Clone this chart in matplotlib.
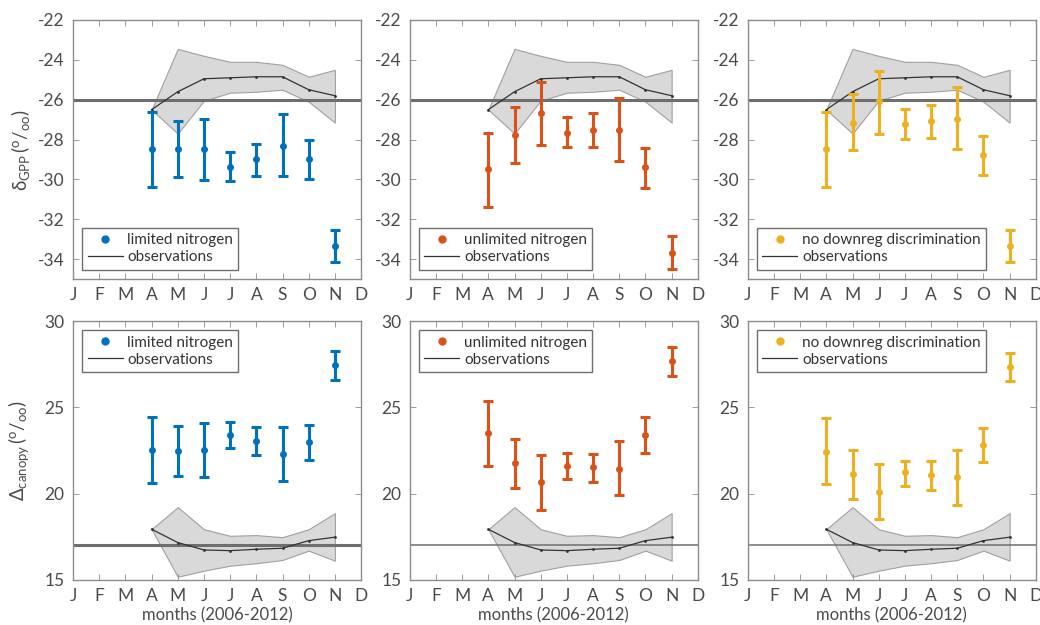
import numpy as np
import matplotlib
import matplotlib.pyplot as plt

matplotlib.use('Agg')

plt.rcParams['font.family'] = ['Lato', 'DejaVu Sans']
plt.rcParams['mathtext.fontset'] = 'custom'
plt.rcParams['mathtext.rm'] = 'Lato'
plt.rcParams['mathtext.it'] = 'Lato'
plt.rcParams['axes.unicode_minus'] = False

TEXT = '#4a4a4a'
FRAME = '#8c8c8c'

month_labels = ['J', 'F', 'M', 'A', 'M', 'J', 'J', 'A', 'S', 'O', 'N', 'D']
months = [4, 5, 6, 7, 8, 9, 10, 11]

# observations, delta GPP
obs_gpp = [-26.5, -25.6, -24.95, -24.9, -24.85, -24.85, -25.5, -25.8]
obs_gpp_hi = [-26.5, -23.45, -23.8, -24.1, -24.1, -24.25, -24.85, -24.5]
obs_gpp_lo = [-26.5, -27.7, -26.05, -25.65, -25.6, -25.5, -26.1, -27.15]
ref_gpp = -26

# observations, canopy discrimination
obs_can = [17.94, 17.17, 16.74, 16.7, 16.78, 16.84, 17.28, 17.48]
obs_can_hi = [17.94, 19.22, 17.94, 17.56, 17.6, 17.48, 17.94, 18.87]
obs_can_lo = [17.94, 15.19, 15.54, 15.83, 15.97, 16.16, 16.7, 16.12]
ref_can = 17

# model runs: mean, lower, upper
lim_gpp = [-28.5, -28.45, -28.5, -29.4, -29.0, -28.3, -29.0, -33.35]
lim_gpp_lo = [-30.4, -29.9, -30.05, -30.1, -29.85, -29.85, -30.0, -34.15]
lim_gpp_hi = [-26.6, -27.05, -26.95, -28.65, -28.2, -26.7, -28.0, -32.55]

unl_gpp = [-29.5, -27.75, -26.65, -27.65, -27.5, -27.5, -29.4, -33.7]
unl_gpp_lo = [-31.4, -29.2, -28.25, -28.35, -28.35, -29.1, -30.45, -34.5]
unl_gpp_hi = [-27.65, -26.35, -25.1, -26.85, -26.65, -25.9, -28.4, -32.85]

nod_gpp = [-28.5, -27.15, -26.05, -27.2, -27.05, -26.95, -28.8, -33.35]
nod_gpp_lo = [-30.4, -28.55, -27.7, -27.95, -27.9, -28.5, -29.8, -34.15]
nod_gpp_hi = [-26.6, -25.7, -24.55, -26.45, -26.25, -25.35, -27.8, -32.55]

lim_can = [22.55, 22.45, 22.55, 23.42, 23.03, 22.32, 22.99, 27.43]
lim_can_lo = [20.61, 21.04, 20.96, 22.65, 22.22, 20.71, 21.97, 26.57]
lim_can_hi = [24.43, 23.9, 24.1, 24.15, 23.87, 23.87, 24.0, 28.26]

unl_can = [23.54, 21.77, 20.67, 21.63, 21.52, 21.44, 23.4, 27.67]
unl_can_lo = [21.63, 20.33, 19.08, 20.87, 20.65, 19.9, 22.38, 26.83]
unl_can_hi = [25.38, 23.19, 22.23, 22.35, 22.31, 23.06, 24.42, 28.5]

nod_can = [22.44, 21.13, 20.1, 21.23, 21.06, 20.94, 22.83, 27.35]
nod_can_lo = [20.58, 19.71, 18.56, 20.46, 20.23, 19.37, 21.81, 26.52]
nod_can_hi = [24.37, 22.54, 21.71, 21.92, 21.9, 22.54, 23.83, 28.17]

runs = [
    ('limited nitrogen', '#0072BD'),
    ('unlimited nitrogen', '#D95319'),
    ('no downreg discrimination', '#EDB120'),
]
gpp_runs = [(lim_gpp, lim_gpp_lo, lim_gpp_hi),
            (unl_gpp, unl_gpp_lo, unl_gpp_hi),
            (nod_gpp, nod_gpp_lo, nod_gpp_hi)]
can_runs = [(lim_can, lim_can_lo, lim_can_hi),
            (unl_can, unl_can_lo, unl_can_hi),
            (nod_can, nod_can_lo, nod_can_hi)]


def style_axis(ax, ylim, yticks):
    ax.set_xlim(1, 12)
    ax.set_xticks(range(1, 13))
    ax.set_xticklabels(month_labels)
    ax.set_ylim(*ylim)
    ax.set_yticks(yticks)
    ax.tick_params(direction='in', top=True, right=True, length=4,
                   width=0.6, color=FRAME, labelcolor=TEXT, labelsize=12.5, pad=6)
    for s in ax.spines.values():
        s.set_color(FRAME)
        s.set_linewidth(1.0)


def draw_panel(ax, obs, lo, hi, ref, ref_lw, run, color, label, legend_loc):
    m, elo, ehi = run
    m = np.array(m)
    yerr = [m - np.array(elo), np.array(ehi) - m]
    ax.fill_between(months, lo, hi, facecolor='#d9d9d9', edgecolor='#a0a0a0',
                    linewidth=0.8, zorder=1)
    ax.axhline(ref, color='#6e6e6e', lw=ref_lw, zorder=2)
    ax.plot(months, obs, color='#333333', lw=0.9, marker='.', markersize=2,
            zorder=3)
    ax.errorbar(months, m, yerr=yerr, fmt='none', ecolor=color, elinewidth=2.2,
                capsize=3.5, capthick=2.2, zorder=4)
    ax.plot(months, m, 'o', color=color, markersize=4, zorder=5)
    h1 = ax.plot([], [], 'o', color=color, markersize=5)[0]
    h2 = ax.plot([], [], color='#333333', lw=0.9)[0]
    leg = ax.legend([h1, h2], [label, 'observations'], loc=legend_loc,
                    fancybox=False, framealpha=1, edgecolor='#6e6e6e',
                    fontsize=11, handlelength=2.3, handletextpad=0.3,
                    borderpad=0.35, labelspacing=0.2,
                    borderaxespad=0.6)
    leg.get_frame().set_linewidth(1.0)
    for t in leg.get_texts():
        t.set_color('#333333')


fig = plt.figure(figsize=(10.4, 6.25), dpi=100)
lefts = [0.0702, 0.394, 0.719]
width = 0.277
for i, (label, color) in enumerate(runs):
    ax = fig.add_axes([lefts[i], 0.5536, width, 0.4144])
    draw_panel(ax, obs_gpp, obs_gpp_lo, obs_gpp_hi, ref_gpp, 2.2,
               gpp_runs[i], color, label, 'lower left')
    style_axis(ax, (-35, -22), range(-34, -21, 2))
    if i == 0:
        ax.set_ylabel(r'$\delta_{GPP}\,(^{o}/_{oo})$', color=TEXT, fontsize=13.5,
                      labelpad=4)

    ax = fig.add_axes([lefts[i], 0.072, width, 0.4144])
    draw_panel(ax, obs_can, obs_can_lo, obs_can_hi, ref_can,
               2.2 if i == 0 else 1.1, can_runs[i], color, label, 'upper left')
    style_axis(ax, (15, 30), [15, 20, 25, 30])
    ax.set_xlabel('months (2006-2012)', color=TEXT, fontsize=12, labelpad=2)
    if i == 0:
        ax.set_ylabel(r'$\Delta_{canopy}\,(^{o}/_{oo})$', color=TEXT,
                      fontsize=13.5, labelpad=10)

fig.savefig('out.png', dpi=100)
